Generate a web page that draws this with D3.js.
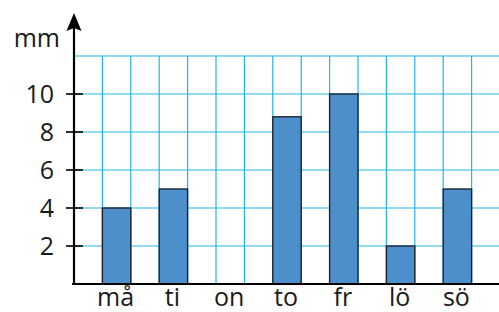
<!DOCTYPE html>
<html>
<head>
<meta charset="utf-8">
<script src="https://cdn.jsdelivr.net/npm/d3@7"></script>
<style>
  html, body { margin: 0; padding: 0; background: #fff; }
  text { font-family: "Open Sans", "Lato", sans-serif; fill: #1a1a1a; }
</style>
</head>
<body>
<div id="chart"></div>
<script>
const days = ["må", "ti", "on", "to", "fr", "lö", "sö"];
const rain = [4, 5, 0, 8.8, 10, 2, 5];
const yTicks = [2, 4, 6, 8, 10];
const gridRows = [2, 4, 6, 8, 10, 12];

const width = 499;
const height = 312;
const margin = { top: 56, right: 0, bottom: 28, left: 74 };
const fontSize = 25;

const svg = d3.select("#chart")
  .append("svg")
  .attr("width", width)
  .attr("height", height);

const x = d3.scaleBand()
  .domain(days)
  .range([margin.left, 500])
  .paddingInner(0.5)
  .paddingOuter(0.5);

const y = d3.scaleLinear()
  .domain([0, 12])
  .range([284, margin.top]);

const gridColor = "#23b5e8";
const bw = x.bandwidth();

// vertical grid lines, one every half band step
const cols = d3.range(1, 16).map(k => margin.left + k * bw);
svg.append("g")
  .selectAll("line")
  .data(cols)
  .join("line")
  .attr("x1", d => d).attr("x2", d => d)
  .attr("y1", y(12)).attr("y2", y(0))
  .attr("stroke", gridColor)
  .attr("stroke-width", 1.2);

// horizontal grid lines
svg.append("g")
  .selectAll("line")
  .data(gridRows)
  .join("line")
  .attr("x1", margin.left).attr("x2", width)
  .attr("y1", d => y(d)).attr("y2", d => y(d))
  .attr("stroke", gridColor)
  .attr("stroke-width", 1.2);

// bars
svg.append("g")
  .selectAll("rect")
  .data(days.map((d, i) => ({ day: d, v: rain[i] })).filter(d => d.v > 0))
  .join("rect")
  .attr("x", d => x(d.day))
  .attr("y", d => y(d.v))
  .attr("width", bw)
  .attr("height", d => y(0) - y(d.v))
  .attr("fill", "#4d8fca")
  .attr("stroke", "#1b2530")
  .attr("stroke-width", 1.4);

// y tick marks and labels
const yt = svg.append("g");
yt.selectAll("line")
  .data(yTicks)
  .join("line")
  .attr("x1", 66).attr("x2", 83)
  .attr("y1", d => y(d)).attr("y2", d => y(d))
  .attr("stroke", "#000")
  .attr("stroke-width", 1.6);
yt.selectAll("text")
  .data(yTicks)
  .join("text")
  .attr("x", 54)
  .attr("y", d => y(d))
  .attr("dy", "0.36em")
  .attr("text-anchor", "end")
  .attr("font-size", fontSize)
  .text(d => d);

// axes
svg.append("line")
  .attr("x1", 72).attr("x2", width)
  .attr("y1", y(0)).attr("y2", y(0))
  .attr("stroke", "#000")
  .attr("stroke-width", 2.2);

svg.append("line")
  .attr("x1", margin.left).attr("x2", margin.left)
  .attr("y1", y(0) + 1).attr("y2", 26)
  .attr("stroke", "#000")
  .attr("stroke-width", 2.2);

svg.append("path")
  .attr("d", `M${margin.left},13 L${margin.left + 7.5},31 L${margin.left},28 L${margin.left - 7.5},31 Z`)
  .attr("fill", "#000");

svg.append("text")
  .attr("x", 60)
  .attr("y", 47)
  .attr("text-anchor", "end")
  .attr("font-size", fontSize)
  .text("mm");

// category labels
svg.append("g")
  .selectAll("text")
  .data(days)
  .join("text")
  .attr("x", d => x(d) + bw / 2 - 1)
  .attr("y", 306)
  .attr("text-anchor", "middle")
  .attr("font-size", fontSize)
  .text(d => d);
</script>
</body>
</html>
